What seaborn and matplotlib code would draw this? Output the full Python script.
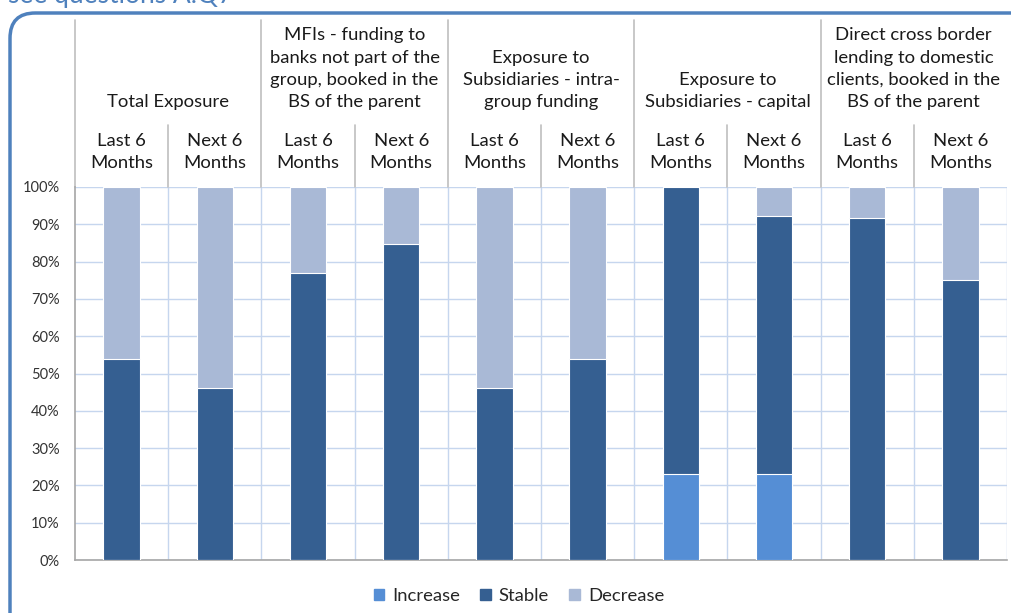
import numpy as np
import pandas as pd
import matplotlib
matplotlib.use("Agg")
import matplotlib.pyplot as plt
import seaborn as sns
from matplotlib.patches import FancyBboxPatch, Rectangle

# Data (share of respondents, %)
groups = ["Total Exposure",
          "MFIs - funding to\nbanks not part of the\ngroup, booked in the\nBS of the parent",
          "Exposure to\nSubsidiaries - intra-\ngroup funding",
          "Exposure to\nSubsidiaries - capital",
          "Direct cross border\nlending to domestic\nclients, booked in the\nBS of the parent"]
periods = ["Last 6\nMonths", "Next 6\nMonths"]
increase = [0, 0, 0, 0, 0, 0, 23.1, 23.1, 0, 0]
stable = [53.8, 46.2, 76.9, 84.6, 46.2, 53.8, 76.9, 69.2, 91.7, 75.0]
decrease = [46.2, 53.8, 23.1, 15.4, 53.8, 46.2, 0, 7.7, 8.3, 25.0]

c_inc = "#558ED5"
c_sta = "#355F91"
c_dec = "#A9B9D6"
grid_c = "#C6D6EE"
line_c = "#BFBFBF"

keys = [f"{g}|{p}" for g in groups for p in periods]
df = pd.DataFrame({"key": keys, "Increase": increase, "Stable": stable, "Decrease": decrease})
df["top_sta"] = df["Increase"] + df["Stable"]
df["top_dec"] = df["top_sta"] + df["Decrease"]

sns.set_style("white")
plt.rcParams["font.family"] = ["Lato", "DejaVu Sans"]

W, H = 1011, 613
fig = plt.figure(figsize=(W / 100, H / 100), dpi=100)
x0, x1, y0, y1 = 75, 1007, 560, 187
ax = fig.add_axes([x0 / W, 1 - y0 / H, (x1 - x0) / W, (y0 - y1) / H])

for col, c in [("top_dec", c_dec), ("top_sta", c_sta), ("Increase", c_inc)]:
    sns.barplot(data=df, x="key", y=col, color=c, width=0.39, ax=ax,
                edgecolor="white", linewidth=0.8, saturation=1, zorder=3)

ax.set_xlim(-0.5, 9.5)
ax.set_ylim(0, 100)
ax.set_yticks(np.arange(0, 101, 10))
ax.set_yticklabels([f"{v}%" for v in range(0, 101, 10)], fontsize=10.5, color="#333333")
ax.set_xticks(np.arange(-0.5, 9.6, 1))
ax.set_xticklabels([])
ax.tick_params(axis="both", length=7, color="#A6A6A6", width=1)
ax.tick_params(axis="y", pad=4)
ax.set_xlabel("")
ax.set_ylabel("")
ax.yaxis.grid(True, color=grid_c, linewidth=1)
ax.set_axisbelow(True)
for b in np.arange(0.5, 9.6, 1):
    ax.axvline(b, color=grid_c, linewidth=1, zorder=1)
for s in ["top", "right"]:
    ax.spines[s].set_visible(False)
for s in ["left", "bottom"]:
    ax.spines[s].set_color("#A6A6A6")
    ax.spines[s].set_linewidth(1.2)

# header: separators and labels
top_frac = 1 + (y1 - 20) / (y0 - y1)
sub_frac = 1 + (y1 - 125) / (y0 - y1)
for i in range(5):
    ax.axvline(2 * i - 0.5, ymin=1, ymax=top_frac, color=line_c, linewidth=1.2, clip_on=False)
    ax.axvline(2 * i + 0.5, ymin=1, ymax=sub_frac, color=line_c, linewidth=1.2, clip_on=False)

trans = ax.get_xaxis_transform()
for i, g in enumerate(groups):
    ax.text(2 * i + 0.5, 1 + (y1 - 110) / (y0 - y1), g, transform=trans, ha="center", va="bottom",
            fontsize=13.3, color="#1a1a1a", linespacing=1.48)
    for j, p in enumerate(periods):
        ax.text(2 * i + j, 1 + (y1 - 171) / (y0 - y1), p, transform=trans, ha="center", va="bottom",
                fontsize=13.3, color="#1a1a1a", linespacing=1.48)

# legend
handles = [Rectangle((0, 0), 1, 1, color=c) for c in (c_inc, c_sta, c_dec)]
fig.legend(handles, ["Increase", "Stable", "Decrease"], loc="center", ncol=3,
           bbox_to_anchor=(519 / W, 1 - 596 / H), frameon=False, fontsize=13.3,
           handlelength=0.55, handleheight=0.55, handletextpad=0.45, columnspacing=1.1)

# outer rounded frame and clipped caption
frame = FancyBboxPatch((10 / W, -30 / H), 1060 / W, (H - 13 + 30) / H,
                       boxstyle="round,pad=0,rounding_size=0.025", transform=fig.transFigure,
                       fill=False, edgecolor="#4F81BD", linewidth=2.5, mutation_aspect=W / H)
fig.patches.append(frame)
fig.text(8 / W, 1 - 3 / H, "see questions A.Q7", fontsize=19, color="#4F81BD",
         ha="left", va="baseline")

fig.savefig("out.png", dpi=100)
